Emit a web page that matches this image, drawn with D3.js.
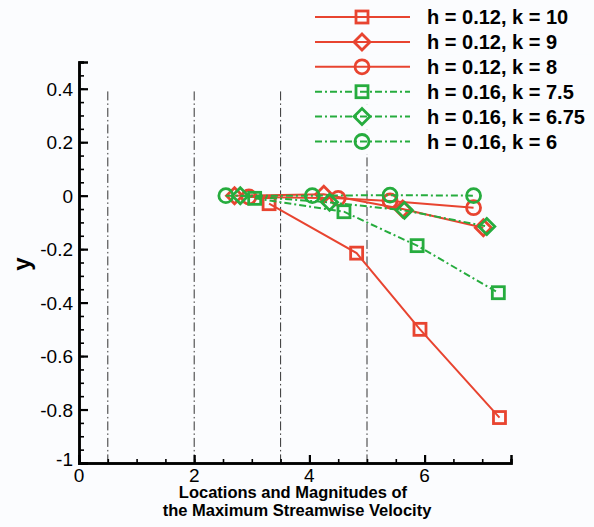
<!DOCTYPE html>
<html>
<head>
<meta charset="utf-8">
<script src="https://cdn.jsdelivr.net/npm/d3@7"></script>
<style>
  body { margin: 0; background: #fbfcfe; }
  svg { display: block; font-family: "Liberation Sans", Arial, sans-serif; }
</style>
</head>
<body>
<main></main>
<script>
// data
const seriesNames = ['h = 0.12, k = 10', 'h = 0.12, k = 9', 'h = 0.12, k = 8',
                     'h = 0.16, k = 7.5', 'h = 0.16, k = 6.75', 'h = 0.16, k = 6']
const xK10 = [3.3, 4.82, 5.92, 7.3]
const yK10 = [-0.03, -0.215, -0.5, -0.83]
const xK9 = [2.7, 4.25, 5.62, 7.02]
const yK9 = [0, 0.005, -0.05, -0.12]
const xK8 = [2.95, 4.5, 5.4, 6.85]
const yK8 = [-0.005, -0.01, -0.02, -0.045]
const xK75 = [3.05, 4.6, 5.87, 7.28]
const yK75 = [-0.01, -0.06, -0.187, -0.363]
const xK675 = [2.8, 4.35, 5.65, 7.08]
const yK675 = [0, -0.025, -0.055, -0.115]
const xK6 = [2.55, 4.05, 5.4, 6.85]
const yK6 = [0, 0, 0.002, 0]
const guideX = [0.5, 2, 3.5, 5]
const xTicks = [0, 2, 4, 6]
const yTicks = [-1, -0.8, -0.6, -0.4, -0.2, 0, 0.2, 0.4]

// sizes
const sizeOfSVG = { width: 594, height: 527 }
const red = 'rgb(232, 68, 48)'
const green = 'rgb(38, 172, 62)'
const dashDot = '7,3,2,3'

const series = [
    { name: seriesNames[0], xs: xK10, ys: yK10, color: red, shape: 'square', dash: null },
    { name: seriesNames[1], xs: xK9, ys: yK9, color: red, shape: 'diamond', dash: null },
    { name: seriesNames[2], xs: xK8, ys: yK8, color: red, shape: 'circle', dash: null },
    { name: seriesNames[3], xs: xK75, ys: yK75, color: green, shape: 'square', dash: dashDot },
    { name: seriesNames[4], xs: xK675, ys: yK675, color: green, shape: 'diamond', dash: dashDot },
    { name: seriesNames[5], xs: xK6, ys: yK6, color: green, shape: 'circle', dash: dashDot }
]

const svg = d3.select('main')
    .append('svg')
    .attr('width', sizeOfSVG.width)
    .attr('height', sizeOfSVG.height)

const xScale = d3.scaleLinear().domain([0, 7.5]).range([79, 511])
const yScale = d3.scaleLinear().domain([-1, 0.5]).range([463, 62])

// vertical dash-dot guides
svg.selectAll('.guide')
    .data(guideX)
    .enter()
    .append('line')
    .attr('class', 'guide')
    .attr('x1', d => xScale(d)).attr('x2', d => xScale(d))
    .attr('y1', yScale(0.39)).attr('y2', yScale(-1))
    .attr('stroke', '#333')
    .attr('stroke-width', 1)
    .attr('stroke-dasharray', '9,3,1.5,3')

// axes: ticks pointing inward
const xMinor = d3.axisTop(xScale).tickValues(d3.range(0, 7.51, 0.5)).tickSize(4).tickFormat('')
const xMajor = d3.axisTop(xScale).tickValues(xTicks).tickSize(8).tickFormat('')
const yMinor = d3.axisRight(yScale).tickValues(d3.range(-1, 0.501, 0.05)).tickSize(5).tickFormat('')
const yMajor = d3.axisRight(yScale).tickValues(yTicks).tickSize(9).tickFormat('')

const styleAxis = g => {
    g.select('.domain').attr('stroke', '#000').attr('stroke-width', 2.5)
    g.selectAll('.tick line').attr('stroke', '#000').attr('stroke-width', 1.6)
}
svg.append('g').attr('transform', `translate(0,${yScale(-1)})`).call(xMinor).call(styleAxis)
svg.append('g').attr('transform', `translate(0,${yScale(-1)})`).call(xMajor).call(styleAxis)
    .selectAll('.tick line').attr('stroke-width', 2.2)
svg.append('g').attr('transform', `translate(${xScale(0)},0)`).call(yMinor).call(styleAxis)
svg.append('g').attr('transform', `translate(${xScale(0)},0)`).call(yMajor).call(styleAxis)
    .selectAll('.tick line').attr('stroke-width', 2.2)

// tick labels
svg.selectAll('.xlab')
    .data(xTicks)
    .enter()
    .append('text')
    .attr('x', d => xScale(d))
    .attr('y', 482)
    .attr('text-anchor', 'middle')
    .style('font-size', '19px')
    .text(d => d)

svg.selectAll('.ylab')
    .data(yTicks)
    .enter()
    .append('text')
    .attr('x', 73)
    .attr('y', d => yScale(d) + (d === -1 ? 3 : 7))
    .attr('text-anchor', 'end')
    .style('font-size', '19px')
    .text(d => String(d))

// axis titles
svg.append('text')
    .attr('transform', 'translate(30,264) rotate(-90)')
    .attr('text-anchor', 'middle')
    .style('font-size', '24px')
    .style('font-weight', 'bold')
    .text('y')

const xTitle = svg.append('text')
    .attr('text-anchor', 'middle')
    .style('font-size', '16.5px')
    .style('font-weight', 'bold')
xTitle.append('tspan').attr('x', 293).attr('y', 498).text('Locations and Magnitudes of')
xTitle.append('tspan').attr('x', 297).attr('y', 516).text('the Maximum Streamwise Velocity')

// markers
const drawMarker = (g, shape, color) => {
    if (shape === 'square') {
        g.append('rect').attr('x', -6).attr('y', -6).attr('width', 12).attr('height', 12)
    } else if (shape === 'diamond') {
        g.append('path').attr('d', 'M0,-8L8,0L0,8L-8,0Z')
    } else {
        g.append('circle').attr('r', 7)
    }
    g.selectAll('*').attr('fill', 'none').attr('stroke', color).attr('stroke-width', 2.8)
}

const line = d3.line().x(d => xScale(d[0])).y(d => yScale(d[1]))

series.forEach(s => {
    const pts = s.xs.map((x, i) => [x, s.ys[i]])
    svg.append('path')
        .datum(pts)
        .attr('d', line)
        .attr('fill', 'none')
        .attr('stroke', s.color)
        .attr('stroke-width', 2)
        .attr('stroke-dasharray', s.dash)
    svg.selectAll(null)
        .data(pts)
        .enter()
        .append('g')
        .attr('transform', d => `translate(${xScale(d[0])},${yScale(d[1])})`)
        .each(function() { drawMarker(d3.select(this), s.shape, s.color) })
})

// legend
const legend = svg.selectAll('.legend')
    .data(series)
    .enter()
    .append('g')
    .attr('class', 'legend')
    .attr('transform', (d, i) => `translate(0,${17 + i * 24.9})`)

legend.append('rect')
    .attr('x', 305).attr('y', -12).attr('width', 289).attr('height', 25)
    .attr('fill', '#fbfcfe')

legend.append('line')
    .attr('x1', 315).attr('x2', 410)
    .attr('stroke', d => d.color)
    .attr('stroke-width', 2)
    .attr('stroke-dasharray', d => d.dash)

legend.append('g')
    .attr('transform', 'translate(362,0)')
    .each(function(d) { drawMarker(d3.select(this), d.shape, d.color) })

legend.append('text')
    .attr('x', 427)
    .attr('y', 7)
    .style('font-size', '20px')
    .style('font-weight', 'bold')
    .text(d => d.name)
</script>
</body>
</html>
